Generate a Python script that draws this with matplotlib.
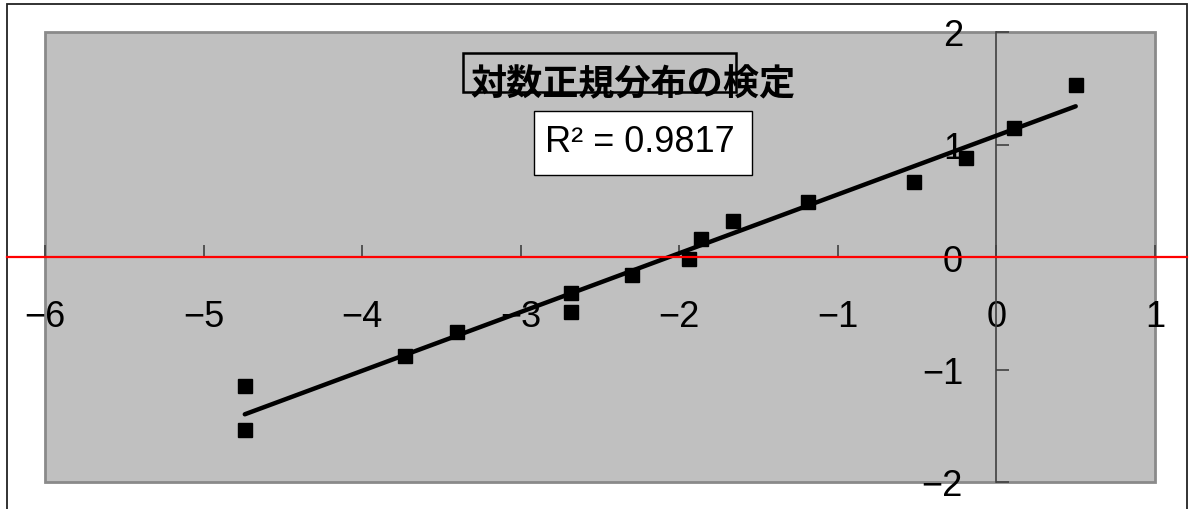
import matplotlib
matplotlib.use("Agg")
import matplotlib.pyplot as plt
import matplotlib.transforms as mtransforms
from matplotlib.lines import Line2D
from matplotlib.patches import Rectangle
import numpy as np

# data
x_vals = [-4.74, -4.74, -3.73, -3.40, -2.68, -2.68, -2.30, -1.94,
          -1.86, -1.66, -1.19, -0.52, -0.19, 0.11, 0.50]
y_vals = [-1.54, -1.15, -0.88, -0.67, -0.49, -0.32, -0.16, -0.02,
          0.16, 0.32, 0.49, 0.67, 0.88, 1.15, 1.53]
x_ticks = [-6, -5, -4, -3, -2, -1, 0, 1]
y_ticks = [-2, -1, 0, 1, 2]
title = "対数正規分布の検定"
r2_label = "R² = 0.9817"

W, H = 1190, 510
tick_font = ["Liberation Sans", "DejaVu Sans"]

fig = plt.figure(figsize=(W / 100, H / 100), dpi=100)
fig.patch.set_facecolor("white")

ax = fig.add_axes([45 / W, (H - 483) / H, 1110 / W, 450 / H])
ax.set_facecolor("#C0C0C0")
ax.set_xlim(-6, 1)
ax.set_ylim(-2, 2)

# axes cross at 0, Excel style
ax.spines["left"].set_position(("data", 0))
ax.spines["bottom"].set_position(("data", 0))
ax.spines["left"].set_color("#404040")
ax.spines["left"].set_linewidth(1.2)
ax.spines["bottom"].set_visible(False)
ax.spines["top"].set_visible(False)
ax.spines["right"].set_visible(False)
ax.add_patch(Rectangle((0, 0), 1, 1, transform=ax.transAxes, fill=False,
                       edgecolor="#8A8A8A", lw=2, zorder=1, clip_on=False))

ax.set_xticks(x_ticks)
ax.set_yticks(y_ticks)
ax.set_xticklabels([f"{v}".replace("-", "\u2212") for v in x_ticks])
ax.set_yticklabels([f"{v}".replace("-", "\u2212") for v in y_ticks])
ax.tick_params(axis="x", direction="in", length=9, width=1.2, color="#404040",
               pad=30, labelsize=26)
ax.tick_params(axis="y", direction="in", length=9, width=1.2, color="#404040",
               pad=24, labelsize=26)
for lab in ax.get_xticklabels() + ax.get_yticklabels():
    lab.set_fontfamily(tick_font)
    lab.set_color("black")

# scatter + linear trendline
ax.plot(x_vals, y_vals, linestyle="none", marker="s", markersize=9.7,
        color="black", zorder=4)
k, b = np.polyfit(x_vals, y_vals, 1)
xs = np.array([min(x_vals), max(x_vals)])
ax.plot(xs, k * xs + b, color="black", lw=3.2, solid_capstyle="round", zorder=3)

# red zero line running across the whole chart frame
blend = mtransforms.blended_transform_factory(fig.transFigure, ax.transData)
fig.add_artist(Line2D([7 / W, 1187 / W], [0, 0], transform=blend,
                      color="red", lw=1.6, zorder=10))

# outer chart frame
fig.add_artist(Rectangle((7 / W, -0.05), 1180 / W, 1.05 - 5 / H,
                         transform=fig.transFigure, fill=False,
                         edgecolor="#222222", lw=1.3))

# title with the leftover box outline
fig.add_artist(Rectangle((463 / W, 1 - 93 / H), 273 / W, 39 / H,
                         transform=fig.transFigure, fill=False,
                         edgecolor="black", lw=1.8, zorder=5))
fig.text(633 / W, 1 - 85 / H, title, ha="center", va="center", fontsize=26,
         fontweight="bold", family=["Noto Sans CJK JP", "DejaVu Sans"],
         zorder=6)

# R^2 label
fig.add_artist(Rectangle((534 / W, 1 - 176 / H), 218 / W, 64 / H,
                         transform=fig.transFigure, facecolor="white",
                         edgecolor="black", lw=1.0, zorder=5))
fig.text(640 / W, 1 - 143 / H, r2_label, ha="center", va="center",
         fontsize=26, family=tick_font, zorder=6)

fig.savefig("out.png", dpi=100)
